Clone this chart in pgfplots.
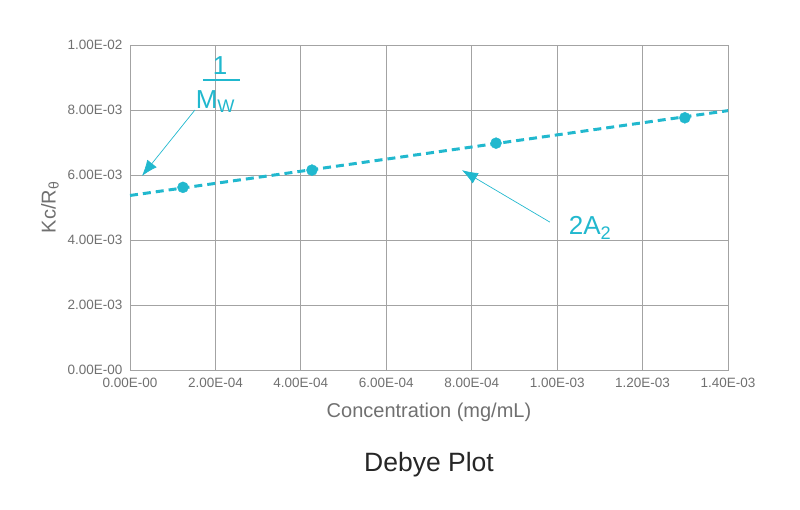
\documentclass[border=0pt]{standalone}
\usepackage{fontspec}
\setmainfont{Liberation Sans}
\usepackage{pgfplots}
\pgfplotsset{compat=1.18}
\usetikzlibrary{arrows.meta}
\definecolor{teal}{HTML}{21B8CE}
\definecolor{gridgray}{HTML}{A3A3A3}
\definecolor{labgray}{HTML}{707070}

\begin{document}
\begin{tikzpicture}
\begin{axis}[
  scale only axis,
  width=598pt, height=325pt,
  xmin=0, xmax=1.4e-3,
  ymin=0, ymax=0.01,
  xtick={0,2e-4,4e-4,6e-4,8e-4,1e-3,1.2e-3,1.4e-3},
  xticklabels={0.00E-00,2.00E-04,4.00E-04,6.00E-04,8.00E-04,1.00E-03,1.20E-03,1.40E-03},
  ytick={0,0.002,0.004,0.006,0.008,0.01},
  yticklabels={0.00E-00,2.00E-03,4.00E-03,6.00E-03,8.00E-03,1.00E-02},
  scaled x ticks=false, scaled y ticks=false,
  major tick length=0pt,
  grid=major,
  grid style={gridgray, line width=0.9pt},
  axis line style={gridgray, line width=0.9pt},
  tick label style={font=\fontsize{13.5}{15}\selectfont, text=labgray},
  xticklabel style={yshift=-5pt},
  yticklabel style={xshift=-4pt},
  xlabel={Concentration (mg/mL)},
  ylabel={Kc/R\textsubscript{θ}},
  label style={font=\fontsize{20}{23}\selectfont, text=labgray},
  xlabel style={yshift=-8pt},
  ylabel style={yshift=2pt},
  clip=false,
]
% fitted line
\addplot[teal, line width=3pt, dash pattern=on 8pt off 5pt] coordinates {(0,5.37e-3) (1.4e-3,7.98e-3)};
% measured points
\addplot[only marks, mark=*, mark size=5.5pt, teal] coordinates {
  (1.24e-4,5.62e-3) (4.26e-4,6.15e-3) (8.57e-4,6.98e-3) (1.299e-3,7.76e-3)};

% annotation 1/Mw
\node[text=teal, font=\fontsize{26}{28}\selectfont] at (axis cs:2.107e-4,9.36e-3) {1};
\draw[teal, line width=1.8pt] (axis cs:1.709e-4,8.923e-3) -- (axis cs:2.575e-4,8.923e-3);
\node[text=teal, font=\fontsize{26}{28}\selectfont] at (axis cs:2.0e-4,8.27e-3) {M\textsubscript{W}};
\draw[teal, line width=0.7pt, -{Latex[length=16pt,width=12pt]}] (axis cs:1.52e-4,8.0e-3) -- (axis cs:2.8e-5,5.97e-3);
% annotation 2A2
\node[text=teal, font=\fontsize{26}{28}\selectfont] at (axis cs:1.077e-3,4.37e-3) {2A\textsubscript{2}};
\draw[teal, line width=0.7pt, -{Latex[length=16pt,width=12pt]}] (axis cs:9.83e-4,4.55e-3) -- (axis cs:7.77e-4,6.15e-3);

\node[font=\fontsize{26.5}{30}\selectfont, text=black!85] at (axis cs:7e-4,-2.92e-3) {Debye Plot};
\end{axis}
\path[use as bounding box] (-130pt,-139pt) rectangle (670pt,370pt);
\end{tikzpicture}
\end{document}
